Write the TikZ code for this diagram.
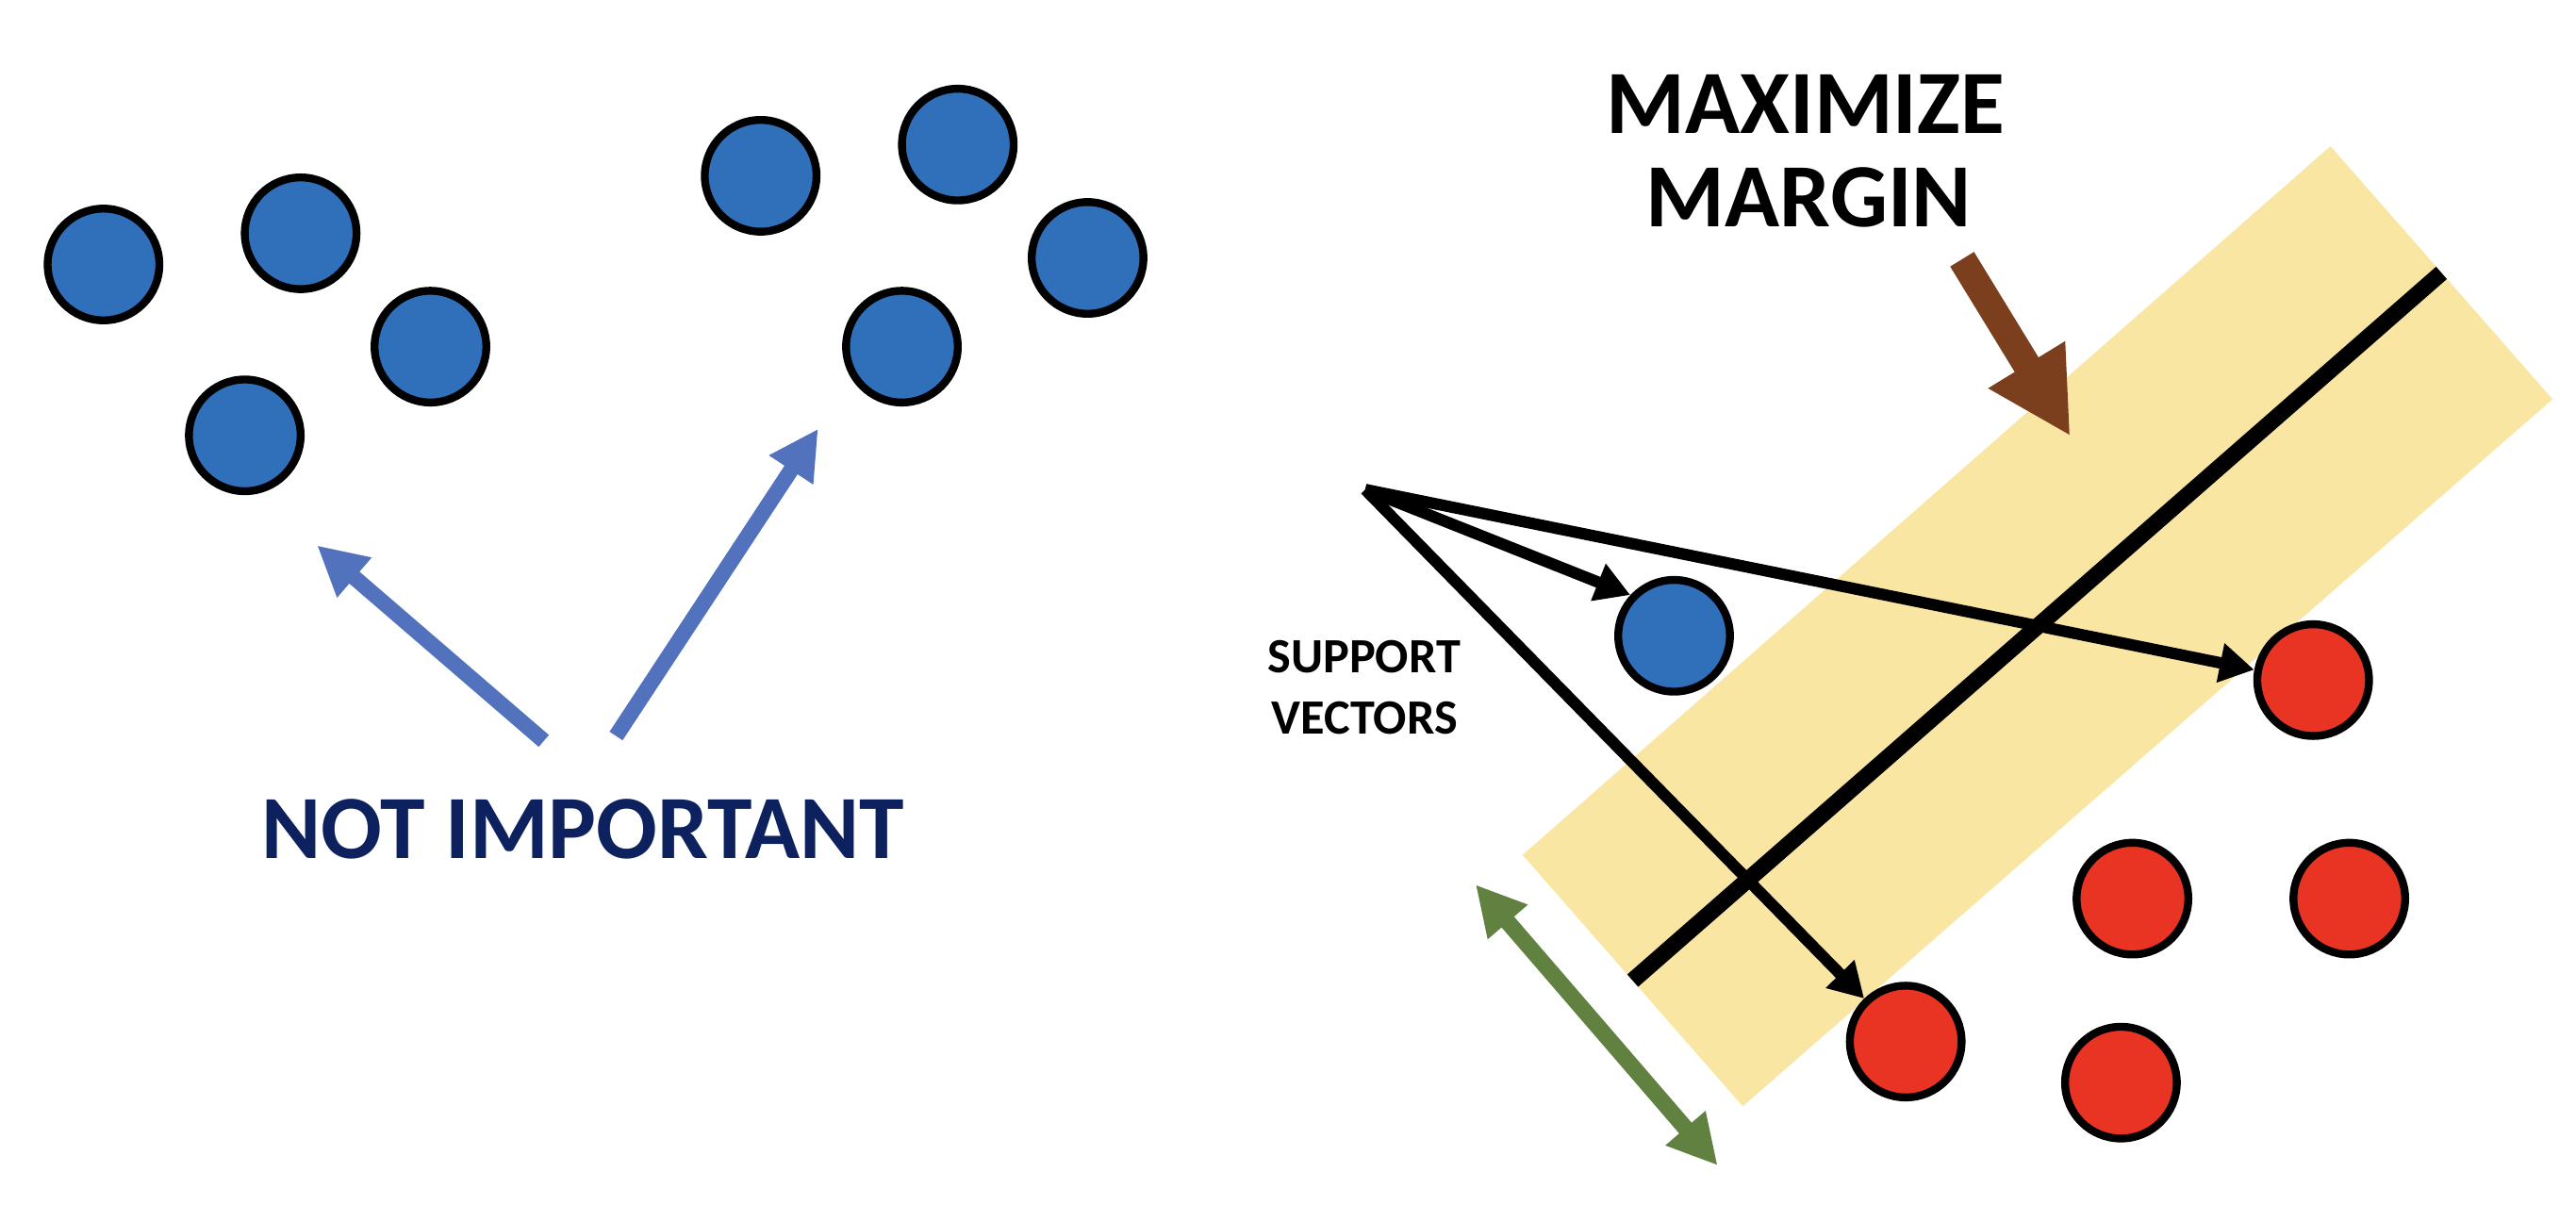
\documentclass[tikz,border=0pt]{standalone}
\usepackage{fontspec}
\setmainfont{Carlito}
\usetikzlibrary{arrows.meta}
\definecolor{ptblue}{HTML}{3070BA}
\definecolor{ptred}{HTML}{E93424}
\definecolor{arrblue}{HTML}{5272BE}
\definecolor{navytext}{HTML}{0C215E}
\definecolor{brownarr}{HTML}{7B3F1E}
\definecolor{bandfill}{HTML}{FAE6A3}
\definecolor{greenarr}{HTML}{60813F}
\begin{document}
\begin{tikzpicture}[x=1pt,y=-1pt,
  dotbase/.style={circle, draw=black, line width=4.8pt, minimum size=68pt, inner sep=0pt},
  bluept/.style={dotbase, fill=ptblue},
  redpt/.style={dotbase, fill=ptred},
  bigtext/.style={font=\fontsize{55}{66}\selectfont\bfseries, inner sep=0pt, anchor=base},
  smalltext/.style={font=\fontsize{30}{37}\selectfont\bfseries, inner sep=0pt, anchor=base},
  bluearrow/.style={draw=arrblue, line width=9.5pt, -{Triangle[length=30pt,width=30pt]}},
  blackarrow/.style={draw=black, line width=7pt, -{Triangle[length=21pt,width=23pt]}},
  brownarrow/.style={draw=brownarr, line width=17pt, -{Triangle[length=51pt,width=51pt]}},
  greenarrow/.style={draw=greenarr, line width=10pt, {Triangle[length=30pt,width=30pt]}-{Triangle[length=30pt,width=30pt]}},
  hyperplane/.style={draw=black, line width=10pt}
]
\fill[white] (0,0) rectangle (1568,733);
\useasboundingbox (0,0) rectangle (1568,733);

% margin band
\coordinate (bt) at (1418.5,89);
\coordinate (br) at (1553.7,243);
\coordinate (bb) at (1060.8,673.4);
\coordinate (bl) at (926.8,520.4);
\fill[bandfill] (bt) -- (br) -- (bb) -- (bl) -- cycle;

% separating hyperplane
\coordinate (h1) at (993.8,596.9);
\coordinate (h2) at (1486.1,166.1);
\draw[hyperplane] (h1) -- (h2);

% left blue points
\node[bluept] (b1) at (63,161) {};
\node[bluept] (b2) at (183,142) {};
\node[bluept] (b3) at (262,211) {};
\node[bluept] (b4) at (149,265) {};
\node[bluept] (b5) at (463,107) {};
\node[bluept] (b6) at (583,88) {};
\node[bluept] (b7) at (662,157) {};
\node[bluept] (b8) at (549,211) {};

% support vector side
\node[bluept] (sv) at (1019,387) {};
\node[redpt] (r1) at (1408,414) {};
\node[redpt] (r2) at (1298,547) {};
\node[redpt] (r3) at (1430,547) {};
\node[redpt] (r4) at (1160,634) {};
\node[redpt] (r5) at (1291,659) {};

% black vectors
\coordinate (o) at (831,298);
\draw[blackarrow] (o) -- (sv.137);
\draw[blackarrow] (o) -- (r1.170);
\draw[blackarrow] (o) -- (r4.134);

% texts
\node[bigtext, text=navytext] (notimp) at (355,522.3) {NOT IMPORTANT};
\node[bigtext] (maxa) at (1099,81.3) {MAXIMIZE};
\node[bigtext] (maxb) at (1101,138.3) {MARGIN};
\node[smalltext] (sva) at (830.3,409.4) {SUPPORT};
\node[smalltext] (svb) at (830.7,446.7) {VECTORS};

% blue arrows
\coordinate (a1s) at (331,451);
\coordinate (a1e) at (193,332);
\coordinate (a2s) at (375,448);
\coordinate (a2e) at (498,261);
\draw[bluearrow] (a1s) -- (a1e);
\draw[bluearrow] (a2s) -- (a2e);

% brown arrow
\coordinate (ms) at (1194.3,157.8);
\coordinate (me) at (1260.2,265.5);
\draw[brownarrow] (ms) -- (me);

% green margin width arrow
\coordinate (g1) at (898.2,538.5);
\coordinate (g2) at (1045.5,709.4);
\draw[greenarrow] (g1) -- (g2);
\end{tikzpicture}
\end{document}
